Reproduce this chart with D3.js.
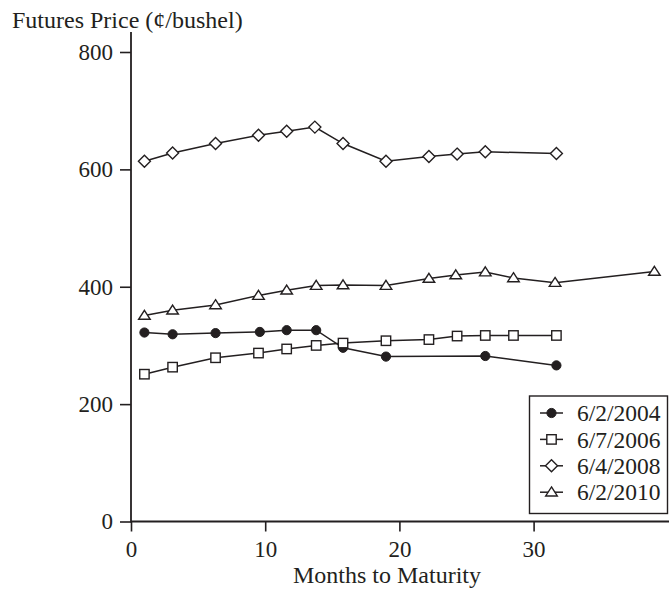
<!DOCTYPE html>
<html><head><meta charset="utf-8">
<script src="https://cdn.jsdelivr.net/npm/d3@7"></script>
<style>
html,body{margin:0;padding:0;background:#fff;}
svg{display:block;}
text{font-family:"Liberation Serif","Times New Roman",serif;fill:#231f20;}
</style></head>
<body>
<svg id="chart" width="669" height="589"></svg>
<script>
// ---- data ----
const months2004 = [1.0, 3.1, 6.3, 9.6, 11.6, 13.8, 15.8, 19.0, 26.4, 31.7];
const prices2004 = [322, 319, 321, 323, 326, 326, 296, 281, 282, 266];

const months2006 = [1.0, 3.1, 6.3, 9.5, 11.6, 13.8, 15.8, 19.0, 22.2, 24.3, 26.4, 28.5, 31.7];
const prices2006 = [251, 263, 279, 287, 294, 300, 304, 308, 310, 316, 317, 317, 317];

const months2008 = [1.0, 3.1, 6.3, 9.5, 11.6, 13.7, 15.8, 19.0, 22.2, 24.3, 26.4, 31.7];
const prices2008 = [614, 628, 644, 658, 665, 672, 644, 614, 622, 626, 630, 627];

const months2010 = [1.0, 3.1, 6.3, 9.5, 11.6, 13.8, 15.8, 19.0, 22.2, 24.2, 26.4, 28.5, 31.6, 39.0];
const prices2010 = [351, 360, 369, 385, 394, 402, 403, 402, 414, 420, 425, 415, 407, 426];

const seriesNames = ["6/2/2004", "6/7/2006", "6/4/2008", "6/2/2010"];
const seriesMarkers = ["circle", "square", "diamond", "triangle"];
const xTicks = [0, 10, 20, 30];
const yTicks = [0, 200, 400, 600, 800];
const yTitle = "Futures Price (¢/bushel)";
const xTitle = "Months to Maturity";

const series = [
  {name: seriesNames[0], marker: seriesMarkers[0], pts: months2004.map((m,i)=>({m, p: prices2004[i]}))},
  {name: seriesNames[1], marker: seriesMarkers[1], pts: months2006.map((m,i)=>({m, p: prices2006[i]}))},
  {name: seriesNames[2], marker: seriesMarkers[2], pts: months2008.map((m,i)=>({m, p: prices2008[i]}))},
  {name: seriesNames[3], marker: seriesMarkers[3], pts: months2010.map((m,i)=>({m, p: prices2010[i]}))}
];

// ---- layout ----
const ink = "#231f20";
const svg = d3.select("#chart");
const x = d3.scaleLinear().domain([0, 40]).range([131, 667.8]);
const y = d3.scaleLinear().domain([0, 800]).range([521.5, 52]);

// y axis
const yAxisG = svg.append("g").attr("transform", `translate(${x(0)},0)`)
  .call(d3.axisLeft(y).tickValues(yTicks).tickSize(11).tickPadding(7).tickFormat(d3.format("d")));
yAxisG.select(".domain").remove();
yAxisG.selectAll(".tick line").attr("stroke", ink).attr("stroke-width", 1.6);
yAxisG.selectAll(".tick text").attr("font-size", 23).attr("font-family", "Liberation Serif").attr("fill", ink);
svg.append("line").attr("x1", x(0)).attr("x2", x(0)).attr("y1", 32).attr("y2", y(0) + 1)
  .attr("stroke", ink).attr("stroke-width", 1.8);

// x axis
const xAxisG = svg.append("g").attr("transform", `translate(0,${y(0)})`)
  .call(d3.axisBottom(x).tickValues(xTicks).tickSize(10).tickPadding(9).tickFormat(d3.format("d")));
xAxisG.select(".domain").remove();
xAxisG.selectAll(".tick line").attr("stroke", ink).attr("stroke-width", 1.6);
xAxisG.selectAll(".tick text").attr("font-size", 23).attr("font-family", "Liberation Serif").attr("fill", ink);
svg.append("line").attr("x1", x(0)).attr("x2", 669).attr("y1", y(0)).attr("y2", y(0))
  .attr("stroke", ink).attr("stroke-width", 1.8);

// titles
svg.append("text").attr("x", 12).attr("y", 28).attr("font-size", 24).text(yTitle);
svg.append("text").attr("x", 387).attr("y", 583).attr("text-anchor", "middle").attr("font-size", 24).text(xTitle);

// markers
function drawMarker(g, type, cx, cy) {
  if (type === "circle") {
    g.append("circle").attr("cx", cx).attr("cy", cy).attr("r", 4.6).attr("fill", ink).attr("stroke", ink).attr("stroke-width", 1);
  } else if (type === "square") {
    g.append("rect").attr("x", cx - 4.7).attr("y", cy - 4.7).attr("width", 9.4).attr("height", 9.4)
      .attr("fill", "#fff").attr("stroke", ink).attr("stroke-width", 1.4);
  } else if (type === "diamond") {
    const r = 6;
    g.append("path").attr("d", `M${cx},${cy - r}L${cx + r},${cy}L${cx},${cy + r}L${cx - r},${cy}Z`)
      .attr("fill", "#fff").attr("stroke", ink).attr("stroke-width", 1.4);
  } else {
    const h = 9, w = 5.8;
    g.append("path").attr("d", `M${cx},${cy - h * 0.58}L${cx + w},${cy + h * 0.42}L${cx - w},${cy + h * 0.42}Z`)
      .attr("fill", "#fff").attr("stroke", ink).attr("stroke-width", 1.4);
  }
}

const line = d3.line().x(d => x(d.m)).y(d => y(d.p));
series.forEach(s => {
  const g = svg.append("g");
  g.append("path").datum(s.pts).attr("d", line).attr("fill", "none").attr("stroke", ink).attr("stroke-width", 1.5);
  s.pts.forEach(d => drawMarker(g, s.marker, x(d.m), y(d.p)));
});

// legend
const lg = svg.append("g");
lg.append("rect").attr("x", 529.5).attr("y", 396).attr("width", 138).attr("height", 117.5)
  .attr("fill", "#fff").attr("stroke", ink).attr("stroke-width", 1.4);
series.forEach((s, i) => {
  const cy = 413 + i * 26.4;
  lg.append("line").attr("x1", 540).attr("x2", 563).attr("y1", cy).attr("y2", cy).attr("stroke", ink).attr("stroke-width", 1.5);
  drawMarker(lg, s.marker, 551.5, cy);
  lg.append("text").attr("x", 577).attr("y", cy).attr("dy", "0.35em").attr("font-size", 23.5).text(s.name);
});
</script>
</body></html>
